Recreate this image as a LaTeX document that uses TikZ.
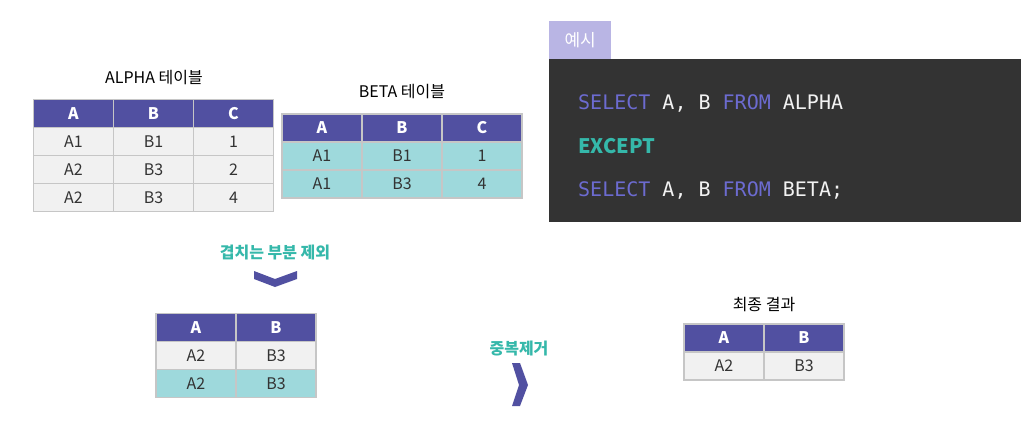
\documentclass[tikz,border=0pt]{standalone}
\usepackage{fontspec}
\setmainfont{Noto Sans CJK KR}
\setmonofont{DejaVu Sans Mono}
\usepackage{xcolor}
\usepackage{tikz}
\usetikzlibrary{matrix}
\definecolor{hdr}{HTML}{5150A1}
\definecolor{grid}{HTML}{C6C6C6}
\definecolor{rowgray}{HTML}{F1F1F1}
\definecolor{rowteal}{HTML}{9ED9DC}
\definecolor{cell}{HTML}{333333}
\definecolor{labelteal}{HTML}{35B8AA}
\definecolor{codebg}{HTML}{333333}
\definecolor{tagbg}{HTML}{B9B5E4}
\definecolor{kw}{HTML}{6C6BD0}
\definecolor{plain}{HTML}{F2F2F2}
\newcommand*\fs[1]{\fontsize{#1}{#1}\selectfont}
\tikzset{
	tbl/.style={matrix of nodes, column sep=-1.2pt, row sep=-1.2pt, inner sep=0pt,
		nodes={draw=grid, line width=1.2pt, fill=rowgray, text=cell, minimum width=80pt, minimum height=28pt, font=\fs{16}, anchor=center},
		row 1/.style={nodes={fill=hdr, text=white, font=\fs{16}\bfseries}}},
	title/.style={font=\fs{16}, text=black},
	steplabel/.style={font=\fs{16}\bfseries, text=labelteal},
	codeline/.style={anchor=west, inner sep=0pt, font=\fs{20}\ttfamily, text=plain},
	chev/.style={fill=hdr}
}

\begin{document}
\begin{tikzpicture}[x=1pt,y=-1pt]
		\useasboundingbox[fill=white] (0,0) rectangle (1036,440);
		\matrix (alpha) [tbl] at (153.5,155.5)
		{
			A & B & C \\
			A1 & B1 & 1 \\
			A2 & B3 & 2 \\
			A2 & B3 & 4 \\
		};
		\node (alphatitle) [title] at (154,78) {ALPHA 테이블};
		\matrix (beta) [tbl, row 2/.style={nodes={fill=rowteal}}, row 3/.style={nodes={fill=rowteal}}] at (402,156)
		{
			A & B & C \\
			A1 & B1 & 1 \\
			A1 & B3 & 4 \\
		};
		\node (betatitle) [title] at (402,92) {BETA 테이블};
		\node (codebox) [fill=codebg, anchor=north west, inner sep=0pt, minimum width=472pt, minimum height=163pt] at (549,59) {};
		\node (tag) [fill=tagbg, anchor=south west, inner sep=0pt, minimum width=62pt, minimum height=38pt, text=white, font=\fs{17}] at (549,59) {예시};
		\node (sql1) [codeline] at (578,103) {\textcolor{kw}{SELECT} A, B \textcolor{kw}{FROM} ALPHA};
		\node (sql2) [codeline, font=\fs{20}\bfseries, text=labelteal] at (578,146) {EXCEPT};
		\node (sql3) [codeline] at (578,190) {\textcolor{kw}{SELECT} A, B \textcolor{kw}{FROM} BETA;};
		\node (except) [steplabel] at (275,253) {겹치는 부분 제외};
		\fill[chev] (254,271) -- (275,279) -- (297,271) -- (297,279) -- (275,287) -- (254,279) -- cycle;
		\matrix (diff) [tbl, row 3/.style={nodes={fill=rowteal}}] at (236,355.5)
		{
			A & B \\
			A2 & B3 \\
			A2 & B3 \\
		};
		\node (dedup) [steplabel] at (519,349) {중복제거};
		\fill[chev] (512,363) -- (520,363) -- (528,385) -- (520,406) -- (512,406) -- (519,385) -- cycle;
		\node (resulttitle) [title] at (764,305) {최종 결과};
		\matrix (result) [tbl] at (764,352)
		{
			A & B \\
			A2 & B3 \\
		};
\end{tikzpicture}
\end{document}
